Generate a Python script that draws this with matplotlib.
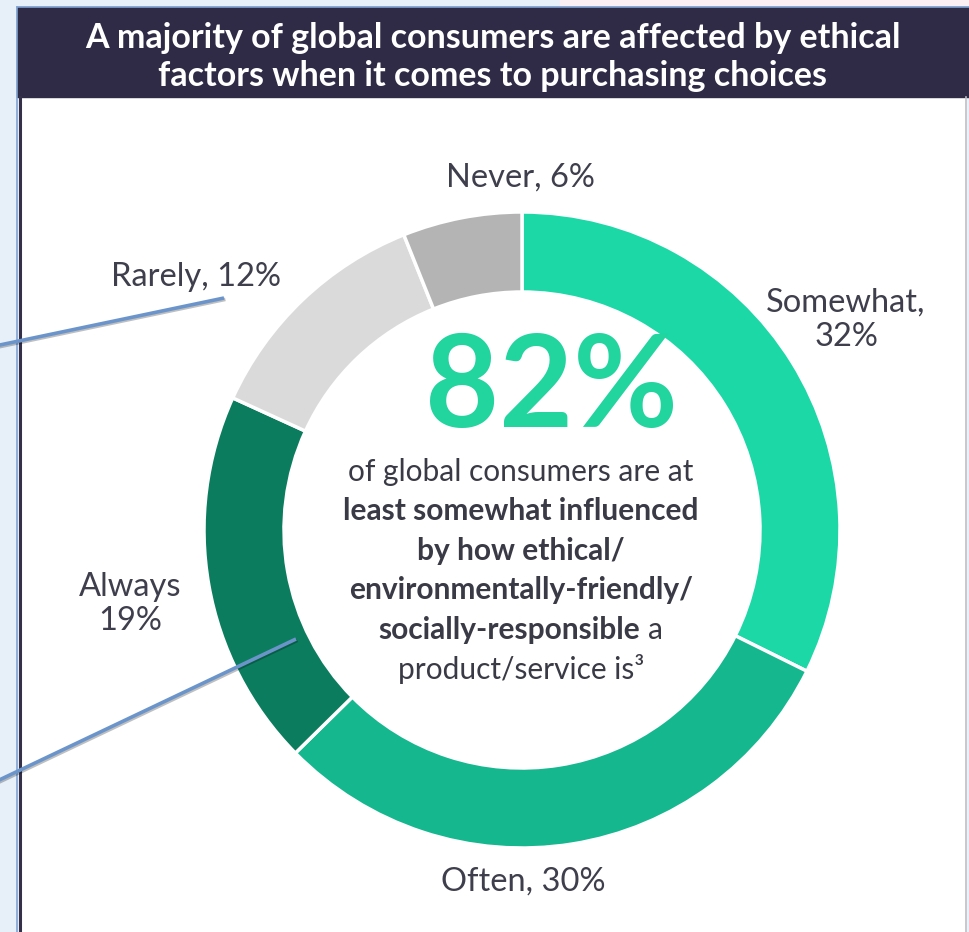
import matplotlib.pyplot as plt
import matplotlib.patheffects as pe
from matplotlib.patches import Rectangle

# survey answers, clockwise from 12 o'clock
categories = ["Somewhat", "Often", "Always", "Rarely", "Never"]
shares = [32, 30, 19, 12, 6]
headline_pct = 82

colors = ["#1BD8A6", "#15B78E", "#0B7D5E", "#DADADA", "#B4B4B4"]
label_fmt = ["{c},\n{v}%", "{c}, {v}%", "{c}\n{v}%", "{c}, {v}%", "{c}, {v}%"]
label_pos = [(846, 320), (523, 882), (130, 604), (196, 277), (520, 178)]

W, H = 969, 932
plt.rcParams["font.family"] = ["Lato", "DejaVu Sans"]

fig = plt.figure(figsize=(W / 100, H / 100), dpi=100, facecolor="#E7EFF8")
ax = fig.add_axes([0, 0, 1, 1])


def Y(y):
    # pixel rows count from the top
    return H - y


# backdrop: pale strip above the panel, white panel, dark title bar
ax.add_patch(Rectangle((560, Y(7)), W - 560, 7, color="#FBEFF3", zorder=0))
ax.add_patch(Rectangle((21, 0), 945, Y(96), color="white", zorder=1))
ax.add_patch(Rectangle((17, Y(97)), 952, 90, color="#2F2B46", zorder=2))
ax.plot([20, 20], [0, Y(97)], color="#34304A", lw=2.2, zorder=2)
ax.plot([17, 17], [0, Y(7)], color="#7FA3D3", lw=1.2, zorder=3)
ax.plot([17, W], [Y(7), Y(7)], color="#7FA3D3", lw=1.2, zorder=3)
ax.plot([966, 966], [0, Y(97)], color="#BDBDC4", lw=1.2, zorder=2)

ax.text(493, Y(57), "A majority of global consumers are affected by ethical\n"
        "factors when it comes to purchasing choices",
        ha="center", va="center", color="white", fontsize=24.5,
        fontweight="bold", linespacing=1.22, zorder=4)

# donut
cx, cy, r = 522, Y(530), 318
ax.pie(shares, colors=colors, startangle=90, counterclock=False,
       center=(cx, cy), radius=r, frame=True,
       wedgeprops=dict(width=80, edgecolor="white", linewidth=2.5))
for p in ax.patches[-len(shares):]:
    p.set_zorder(3)
ax.set_xlim(0, W)
ax.set_ylim(0, H)
ax.set_aspect("auto")
ax.axis("off")

for fmt, c, v, (x, y) in zip(label_fmt, categories, shares, label_pos):
    ax.text(x, Y(y), fmt.format(c=c, v=v), ha="center", va="center",
            fontsize=23.5, color="#3E3E4C", linespacing=1.2, zorder=4)

# centre headline
ax.text(551, Y(391), f"{headline_pct}%", ha="center", va="center",
        fontsize=92, fontweight="bold", color="#22D49D", zorder=4)

body_size = 21.5
center_lines = [
    ("of global consumers are at", "normal"),
    ("least somewhat influenced", "bold"),
    ("by how ethical/", "bold"),
    ("environmentally-friendly/", "bold"),
]
for i, (s, w) in enumerate(center_lines):
    ax.text(521, Y(472 + 39.5 * i), s, ha="center", va="center",
            fontsize=body_size, fontweight=w, color="#3A3A46", zorder=4)

# mixed-weight line
renderer = fig.canvas.get_renderer()
yl = Y(630)
t1 = ax.text(0, yl, "socially-responsible", ha="left", va="center",
             fontsize=body_size, fontweight="bold", color="#3A3A46", zorder=4)
t2 = ax.text(0, yl, "a", ha="left", va="center",
             fontsize=body_size, color="#3A3A46", zorder=4)
gap = 8
w1 = t1.get_window_extent(renderer).width
w2 = t2.get_window_extent(renderer).width
x0 = 521 - (w1 + gap + w2) / 2
t1.set_x(x0)
t2.set_x(x0 + w1 + gap)

ax.text(521, Y(669), "product/service is\u00b3", ha="center", va="center",
        fontsize=body_size, color="#3A3A46", zorder=4)

# pointer lines coming in from the left
shadow = [pe.SimpleLineShadow(offset=(1, -1), alpha=0.25), pe.Normal()]
for (x1, y1), (x2, y2) in [((224, 298), (-5, 346)), ((296, 639), (-5, 782))]:
    ax.plot([x1, x2], [Y(y1), Y(y2)], color="#6B95CA", lw=2.6,
            solid_capstyle="butt", path_effects=shadow, zorder=5)

fig.savefig("out.png", dpi=100, facecolor=fig.get_facecolor())
